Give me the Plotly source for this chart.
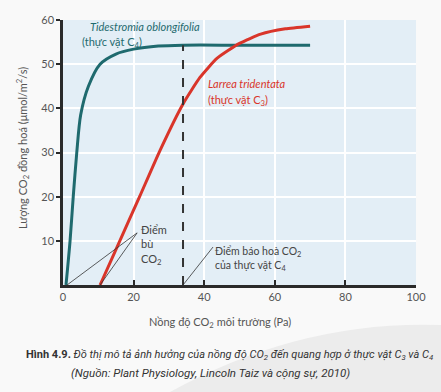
import plotly.graph_objects as go

# ---- data ----
c4_x = [0.85, 2.0, 2.9, 3.9, 5.0, 7.2, 10.5, 15.0, 20.0, 27.0, 34.0, 50.0, 70.0]
c4_y = [0.0, 10.0, 20.0, 30.0, 38.5, 45.0, 50.0, 52.3, 53.4, 54.1, 54.3, 54.3, 54.3]
c3_x = [10.5, 16.1, 21.7, 27.5, 34.0, 38.8, 43.6, 50.0, 56.0, 63.0, 70.0]
c3_y = [0.0, 10.0, 20.0, 30.5, 41.0, 47.0, 51.3, 54.7, 56.8, 58.0, 58.6]
sat_x = 34.0
sat_y = 54.3
x_ticks = [0, 20, 40, 60, 80, 100]
y_ticks = [10, 20, 30, 40, 50, 60]

W, H = 441, 392
L, R, T, B = 63, 25, 20, 107
PW, PH = W - L - R, H - T - B

def px(x):  # pixel -> paper x
    return (x - L) / PW

def py(y):  # pixel -> paper y
    return (H - B - y) / PH

teal = "#1f6a6e"
red = "#d9352a"
font = "Lato"
cap_font = "Roboto"

fig = go.Figure()

fig.add_trace(go.Scatter(x=c4_x, y=c4_y, mode="lines", line=dict(color=teal, width=3, shape="spline", smoothing=0.8), hoverinfo="skip"))
fig.add_trace(go.Scatter(x=c3_x, y=c3_y, mode="lines", line=dict(color=red, width=3, shape="spline", smoothing=0.5), hoverinfo="skip"))
fig.add_trace(go.Scatter(x=[sat_x, sat_x], y=[0, sat_y], mode="lines", line=dict(color="#333", width=2, dash="dash"), hoverinfo="skip"))

# pointer lines
fig.add_trace(go.Scatter(x=[c4_x[0] + 0.3, 21.0, c3_x[0]], y=[0, 11.8, 0], mode="lines", line=dict(color="#333", width=0.8), hoverinfo="skip"))
fig.add_trace(go.Scatter(x=[sat_x, 42.5], y=[0, 8.6], mode="lines", line=dict(color="#333", width=0.8), hoverinfo="skip"))

ann = []
ann.append(dict(x=px(88), y=py(18), xref="paper", yref="paper", text="<i>Tidestromia oblongifolia</i>", showarrow=False, xanchor="left", yanchor="top", font=dict(family=font, size=11, color=teal)))
ann.append(dict(x=px(80), y=py(33), xref="paper", yref="paper", text="(thực vật C<sub>4</sub>)", showarrow=False, xanchor="left", yanchor="top", font=dict(family=font, size=11, color=teal)))
ann.append(dict(x=40.5, y=47.5, xref="x", yref="y", text="<i>Larrea tridentata</i>", showarrow=False, xanchor="left", yanchor="top", font=dict(family=font, size=11, color=red)))
ann.append(dict(x=40.5, y=44, xref="x", yref="y", text="(thực vật C<sub>3</sub>)", showarrow=False, xanchor="left", yanchor="top", font=dict(family=font, size=11, color=red)))
ann.append(dict(x=21.5, y=14.5, xref="x", yref="y", text="Điểm<br>bù<br>CO<sub>2</sub>", showarrow=False, xanchor="left", yanchor="top", align="left", font=dict(family=font, size=11, color="#444")))
ann.append(dict(x=42.5, y=9.5, xref="x", yref="y", text="Điểm báo hoà CO<sub>2</sub><br>của thực vật C<sub>4</sub>", showarrow=False, xanchor="left", yanchor="top", align="left", font=dict(family=font, size=10.5, color="#444")))
ann.append(dict(x=px(220), y=py(322), xref="paper", yref="paper", text="Nồng độ CO<sub>2</sub> môi trường (Pa)", showarrow=False, xanchor="center", yanchor="middle", font=dict(family=font, size=11, color="#555")))
ann.append(dict(x=px(22), y=py(148), xref="paper", yref="paper", text="Lượng CO<sub>2</sub> đồng hoá (μmol/m<sup>2</sup>/s)", textangle=-90, showarrow=False, xanchor="center", yanchor="middle", font=dict(family=font, size=11, color="#555")))
ann.append(dict(x=px(229), y=py(355), xref="paper", yref="paper", text="<b>Hình 4.9.</b> <i>Đồ thị mô tả ảnh hưởng của nồng độ CO<sub>2</sub> đến quang hợp ở thực vật C<sub>3</sub> và C<sub>4</sub></i>", showarrow=False, xanchor="center", yanchor="middle", font=dict(family=cap_font, size=11, color="#333")))
ann.append(dict(x=px(210), y=py(373), xref="paper", yref="paper", text="<i>(Nguồn: Plant Physiology, Lincoln Taiz và cộng sự, 2010)</i>", showarrow=False, xanchor="center", yanchor="middle", font=dict(family=cap_font, size=11.5, color="#333")))

shapes = [dict(type="path", xref="paper", yref="paper", layer="below",
               path=f"M {px(170)} {py(392)} Q {px(300)} {py(320)} {px(441)} {py(325)} L {px(441)} {py(392)} Z",
               fillcolor="#ececec", line=dict(width=0))]

fig.update_layout(
    width=W, height=H, margin=dict(l=L, r=R, t=T, b=B),
    paper_bgcolor="#f9f9f9", plot_bgcolor="#e3eef6",
    showlegend=False, annotations=ann, shapes=shapes,
    font=dict(family=font, color="#555", size=11),
)
fig.update_xaxes(range=[0, 100], tickvals=x_ticks, showgrid=True, gridcolor="white", gridwidth=2,
                 showline=True, linecolor="#2a2a2a", linewidth=2.5, ticks="inside", ticklen=5, tickwidth=2,
                 tickcolor="#2a2a2a", zeroline=False, tickfont=dict(family=font, size=11, color="#555"))
fig.update_yaxes(range=[0, 60], tickvals=y_ticks, showgrid=True, gridcolor="white", gridwidth=2,
                 showline=True, linecolor="#2a2a2a", linewidth=2.5, ticks="outside", ticklen=4, tickwidth=2,
                 tickcolor="#2a2a2a", zeroline=False, tickfont=dict(family=font, size=11, color="#555"))

fig.write_html("out.html", post_script="document.body.style.margin='0px';", config={"displayModeBar": False})
